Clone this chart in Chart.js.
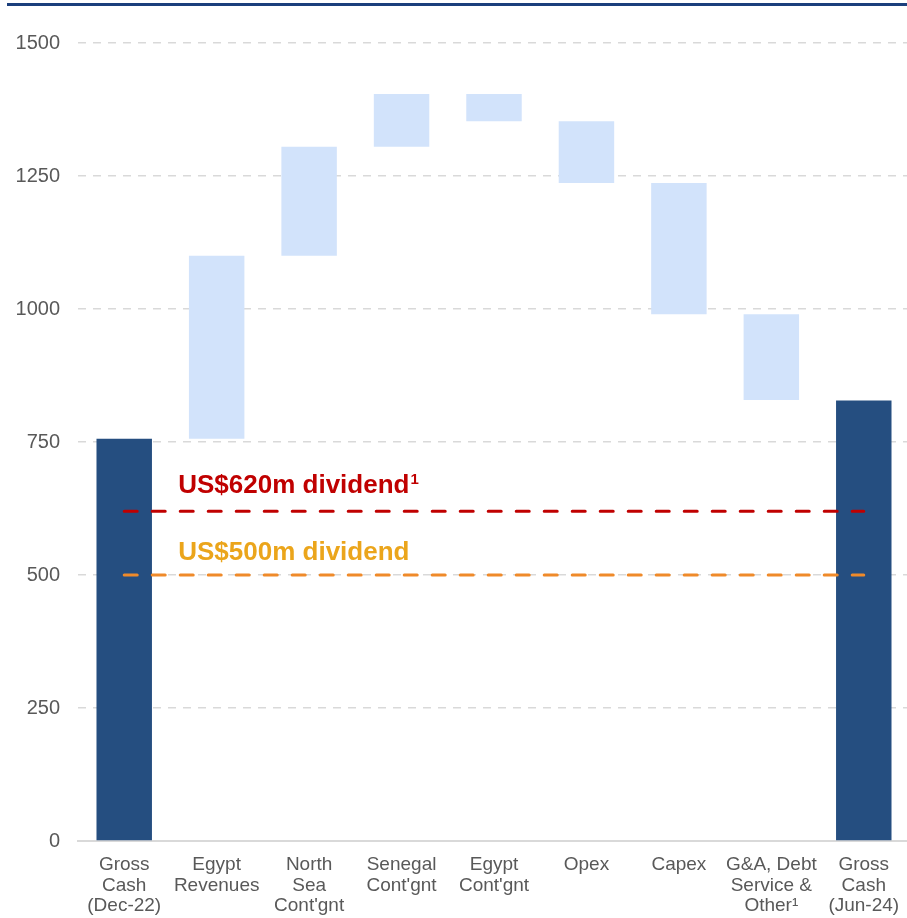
<!DOCTYPE html>
<html>
<head>
<meta charset="utf-8">
<script src="https://cdn.jsdelivr.net/npm/chart.js@4/dist/chart.umd.min.js"></script>
<style>
    html, body { margin: 0; padding: 0; background: #fff; overflow: hidden; }
    .wrap { position: relative; width: 907px; height: 918px; overflow: hidden; }
    .top-rule { position: absolute; left: 7px; right: 0; top: 3px; height: 3px; background: #1b3f7c; z-index: 1; }
    canvas { position: absolute; left: 0; top: 0; }
</style>
</head>
<body>
<div class="wrap">
    <div class="top-rule"></div>
    <canvas id="cashChart" width="910" height="918"></canvas>
</div>
<script>
// Cash bridge, US$m
const categories = [
    ['Gross', 'Cash', '(Dec-22)'],
    ['Egypt', 'Revenues'],
    ['North', 'Sea', "Cont'gnt"],
    ['Senegal', "Cont'gnt"],
    ['Egypt', "Cont'gnt"],
    ['Opex'],
    ['Capex'],
    ['G&A, Debt', 'Service &', 'Other\u00B9'],
    ['Gross', 'Cash', '(Jun-24)']
];
const barStart = [0, 756, 1100, 1305, 1404, 1353, 1237, 990, 0];
const barEnd   = [756, 1100, 1305, 1404, 1353, 1237, 990, 829, 828];
const isTotal  = [true, false, false, false, false, false, false, false, true];
const yTicks = [0, 250, 500, 750, 1000, 1250, 1500];

const dividendHigh = 620;
const dividendLow = 500;
const dividendHighLabel = 'US$620m dividend';
const dividendLowLabel = 'US$500m dividend';
const footnoteMark = '1';

const labelKeys = categories.map(c => c.join(' '));
const fontFamily = '"Liberation Sans", Arial, sans-serif';

// text above the dividend lines
const dividendText = {
    id: 'dividendText',
    afterDatasetsDraw(chart) {
        const ctx = chart.ctx;
        const x = chart.scales.x.getPixelForValue(0) + 54;
        const y = chart.scales.y;
        const yHigh = y.getPixelForValue(dividendHigh) - 18;
        ctx.save();
        ctx.font = 'bold 26px ' + fontFamily;
        ctx.textBaseline = 'alphabetic';
        ctx.textAlign = 'left';
        ctx.fillStyle = '#c00000';
        ctx.fillText(dividendHighLabel, x, yHigh);
        const w = ctx.measureText(dividendHighLabel).width;
        ctx.font = 'bold 15px ' + fontFamily;
        ctx.fillText(footnoteMark, x + w + 1, yHigh - 9);
        ctx.font = 'bold 26px ' + fontFamily;
        ctx.fillStyle = '#eba51b';
        ctx.fillText(dividendLowLabel, x, y.getPixelForValue(dividendLow) - 15);
        ctx.restore();
    }
};

const ctx = document.getElementById('cashChart').getContext('2d');

new Chart(ctx, {
    data: {
        labels: labelKeys,
        datasets: [
            {
                type: 'line',
                data: [
                    { x: labelKeys[0], y: dividendHigh },
                    { x: labelKeys[labelKeys.length - 1], y: dividendHigh }
                ],
                borderColor: '#c00000',
                borderWidth: 3,
                borderDash: [13, 15],
                borderCapStyle: 'round',
                pointRadius: 0,
                fill: false,
                order: 0
            },
            {
                type: 'line',
                data: [
                    { x: labelKeys[0], y: dividendLow },
                    { x: labelKeys[labelKeys.length - 1], y: dividendLow }
                ],
                borderColor: '#ef8a2a',
                borderWidth: 3,
                borderDash: [13, 15],
                borderCapStyle: 'round',
                pointRadius: 0,
                fill: false,
                order: 0
            },
            {
                type: 'bar',
                data: barStart.map((s, i) => [s, barEnd[i]]),
                backgroundColor: isTotal.map(t => t ? '#254e80' : '#d2e3fb'),
                borderWidth: 0,
                categoryPercentage: 1,
                barPercentage: 0.6,
                order: 1
            }
        ]
    },
    options: {
        responsive: false,
        animation: false,
        layout: { padding: { top: 43, right: 0, left: 0, bottom: 0 } },
        plugins: {
            legend: { display: false },
            tooltip: { enabled: false }
        },
        scales: {
            x: {
                type: 'category',
                grid: { display: false },
                border: { display: true, color: '#d9d9d9', width: 2 },
                ticks: {
                    color: '#595959',
                    font: { family: fontFamily, size: 19, lineHeight: 1.1 },
                    padding: 5,
                    maxRotation: 0,
                    autoSkip: false,
                    callback: (v, i) => categories[i]
                },
                afterFit: scale => { scale.height = 77; }
            },
            y: {
                min: 0,
                max: 1500,
                afterBuildTicks: scale => { scale.ticks = yTicks.map(v => ({ value: v })); },
                grid: { color: '#d9d9d9', lineWidth: 1.5, drawTicks: false },
                border: { display: false, dash: [8, 7] },
                ticks: {
                    color: '#595959',
                    font: { family: fontFamily, size: 20 },
                    padding: 18,
                    callback: v => String(v)
                },
                afterFit: scale => { scale.width = 78; }
            }
        }
    },
    plugins: [dividendText]
});
</script>
</body>
</html>
